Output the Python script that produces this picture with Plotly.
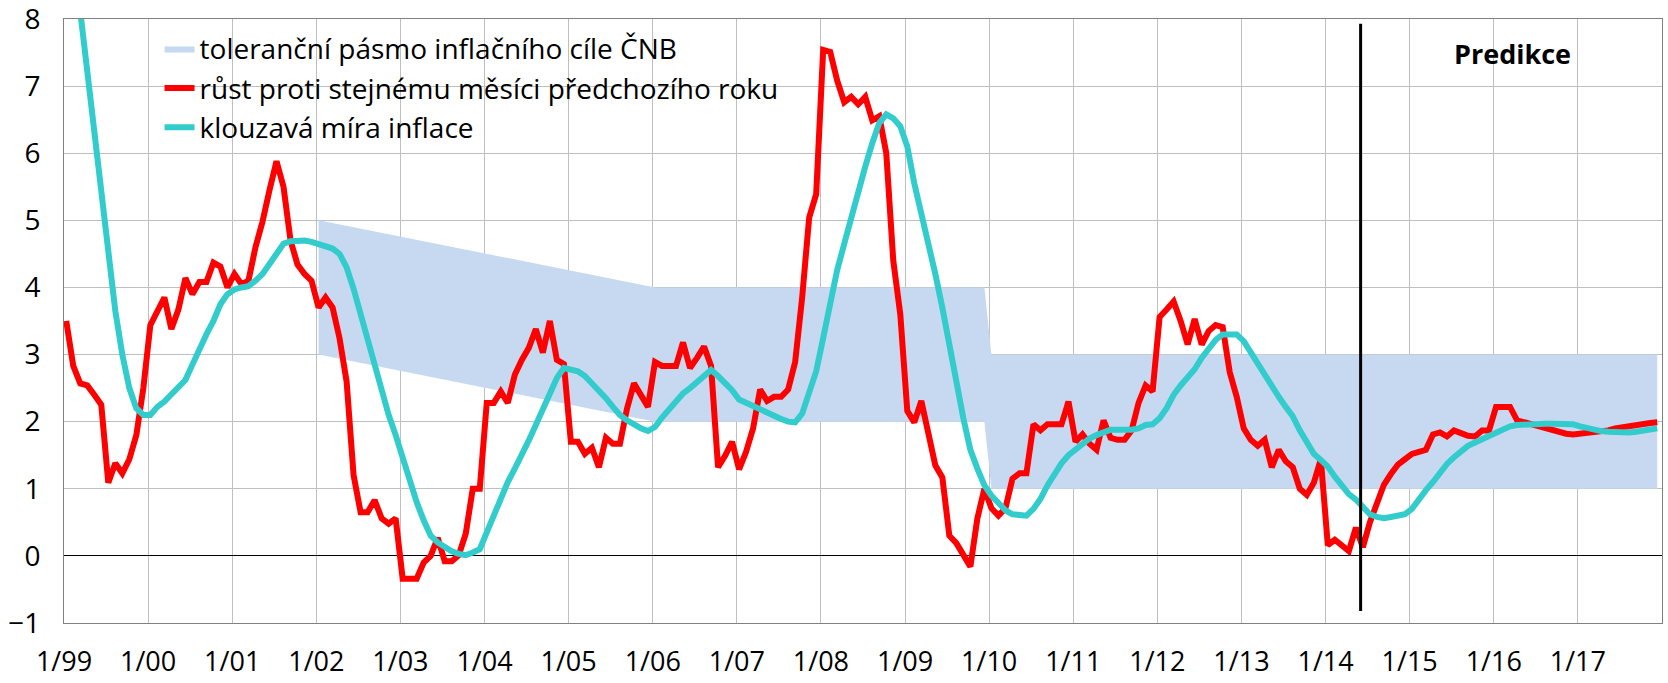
import plotly.graph_objects as go

# ---------------- data ----------------
start_year = 1999
n_months = 228  # 1/1999 .. 12/2017
x_shift = 0.32  # Excel plots each month slightly right of the year gridline

yoy = [
    # 1999
    3.5, 2.83, 2.57, 2.54, 2.4, 2.25, 1.09, 1.38, 1.23, 1.44, 1.8, 2.5,
    # 2000
    3.44, 3.65, 3.85, 3.38, 3.67, 4.14, 3.9, 4.08, 4.08, 4.37, 4.31, 4.0,
    # 2001
    4.2, 4.05, 4.1, 4.6, 4.98, 5.45, 5.88, 5.5, 4.7, 4.34, 4.2, 4.1,
    # 2002
    3.7, 3.85, 3.7, 3.24, 2.6, 1.2, 0.65, 0.65, 0.83, 0.56, 0.48, 0.56,
    # 2003
    -0.34, -0.34, -0.34, -0.1, 0.0, 0.27, -0.08, -0.08, 0.01, 0.33, 1.0, 1.0,
    # 2004
    2.28, 2.28, 2.45, 2.28, 2.7, 2.92, 3.1, 3.38, 3.03, 3.5, 2.92, 2.86,
    # 2005
    1.7, 1.7, 1.52, 1.61, 1.32, 1.76, 1.67, 1.67, 2.19, 2.57, 2.4, 2.22,
    # 2006
    2.89, 2.83, 2.83, 2.83, 3.18, 2.8, 2.95, 3.12, 2.83, 1.32, 1.49, 1.7,
    # 2007
    1.29, 1.55, 1.9, 2.48, 2.31, 2.37, 2.37, 2.48, 2.89, 3.85, 5.04, 5.39,
    # 2008
    7.54, 7.51, 7.08, 6.76, 6.84, 6.73, 6.84, 6.49, 6.55, 6.0, 4.4, 3.6,
    # 2009
    2.16, 1.99, 2.31, 1.8, 1.35, 1.17, 0.3, 0.19, 0.01, -0.16, 0.56, 1.0,
    # 2010
    0.71, 0.6, 0.71, 1.15, 1.23, 1.23, 1.96, 1.87, 1.96, 1.96, 1.96, 2.3,
    # 2011
    1.7, 1.81, 1.67, 1.58, 2.02, 1.76, 1.73, 1.73, 1.87, 2.28, 2.54, 2.45,
    # 2012
    3.56, 3.67, 3.79, 3.5, 3.15, 3.53, 3.15, 3.35, 3.44, 3.41, 2.74, 2.37,
    # 2013
    1.9, 1.73, 1.64, 1.73, 1.32, 1.58, 1.41, 1.32, 1.0, 0.91, 1.09, 1.44,
    # 2014
    0.16, 0.24, 0.16, 0.07, 0.42, 0.13, 0.5, 0.8, 1.06, 1.22, 1.36, 1.44,
    # 2015
    1.52, 1.55, 1.58, 1.81, 1.84, 1.78, 1.87, 1.83, 1.79, 1.78, 1.87, 1.87,
    # 2016
    2.22, 2.22, 2.22, 2.02, 1.99, 1.96, 1.93, 1.89, 1.86, 1.84, 1.82, 1.81,
    # 2017
    1.82, 1.83, 1.84, 1.85, 1.87, 1.9, 1.92, 1.94, 1.96, 1.97, 1.98, 1.99,
]

moving_avg = [
    # 1999
    9.9, 9.0, 8.1, 7.2, 6.35, 5.45, 4.5, 3.65, 3.0, 2.5, 2.2, 2.1,
    # 2000
    2.1, 2.22, 2.3, 2.4, 2.5, 2.62, 2.85, 3.1, 3.3, 3.5, 3.75, 3.9,
    # 2001
    3.97, 4.0, 4.02, 4.1, 4.2, 4.35, 4.5, 4.65, 4.69, 4.7, 4.7, 4.68,
    # 2002
    4.64, 4.62, 4.58, 4.5, 4.3, 3.98, 3.6, 3.25, 2.8, 2.45, 2.1, 1.8,
    # 2003
    1.45, 1.1, 0.8, 0.53, 0.3, 0.2, 0.13, 0.07, 0.03, 0.01, 0.05, 0.1,
    # 2004
    0.35, 0.62, 0.88, 1.1, 1.3, 1.5, 1.72, 1.95, 2.2, 2.45, 2.65, 2.8,
    # 2005
    2.78, 2.75, 2.68, 2.58, 2.45, 2.35, 2.22, 2.1, 2.02, 1.95, 1.9, 1.86,
    # 2006
    1.92, 2.06, 2.18, 2.3, 2.42, 2.5, 2.6, 2.7, 2.77, 2.68, 2.58, 2.47,
    # 2007
    2.33, 2.28, 2.23, 2.19, 2.13, 2.07, 2.04, 2.0, 1.99, 2.12, 2.45, 2.75,
    # 2008
    3.25, 3.75, 4.26, 4.65, 5.05, 5.45, 5.8, 6.15, 6.45, 6.58, 6.52, 6.4,
    # 2009
    6.1, 5.55, 5.1, 4.7, 4.2, 3.7, 3.2, 2.6, 2.05, 1.58, 1.3, 1.05,
    # 2010
    0.9, 0.78, 0.68, 0.62, 0.6, 0.6, 0.7, 0.85, 1.05, 1.22, 1.38, 1.5,
    # 2011
    1.58, 1.67, 1.75, 1.8, 1.85, 1.88, 1.88, 1.87, 1.88, 1.9, 1.95, 1.96,
    # 2012
    2.05, 2.2, 2.4, 2.54, 2.65, 2.78, 2.95, 3.1, 3.22, 3.3, 3.3, 3.3,
    # 2013
    3.2, 3.03, 2.86, 2.7, 2.5, 2.37, 2.22, 2.08, 1.87, 1.68, 1.52, 1.43,
    # 2014
    1.33, 1.18, 1.04, 0.92, 0.84, 0.72, 0.62, 0.58, 0.56, 0.58, 0.6, 0.62,
    # 2015
    0.7, 0.85, 0.98, 1.1, 1.25, 1.37, 1.47, 1.56, 1.64, 1.69, 1.74, 1.79,
    # 2016
    1.84, 1.89, 1.93, 1.95, 1.96, 1.96, 1.97, 1.97, 1.97, 1.97, 1.97, 1.96,
    # 2017
    1.93, 1.9, 1.87, 1.86, 1.85, 1.84, 1.84, 1.84, 1.85, 1.86, 1.88, 1.9,
]

# tolerance band vertices (month index, lower, upper)
band_months = [36, 84, 131, 132, 227]
band_lower = [3, 2, 2, 1, 1]
band_upper = [5, 4, 4, 3, 3]

prediction_month = 185  # 6/2014
tick_labels = ["1/%02d" % ((start_year + k) % 100) for k in range(19)]

# ---------------- figure ----------------
months = list(range(n_months))
x_vals = [m + x_shift for m in months]
band_x = [m + x_shift for m in band_months]

RED = "#FF0000"
CYAN = "#33CCCC"
BAND = "#C6D9F1"
FONT = "Open Sans"

fig = go.Figure()
fig.add_trace(go.Scatter(
    x=band_x, y=band_lower, mode="lines", line=dict(width=0, color=BAND),
    showlegend=False, hoverinfo="skip", legendgroup="a"))
fig.add_trace(go.Scatter(
    x=band_x, y=band_upper, mode="lines", line=dict(width=0, color=BAND),
    fill="tonexty", fillcolor=BAND, name="toleranční pásmo inflačního cíle ČNB",
    legendgroup="a"))
fig.add_trace(go.Scatter(
    x=x_vals, y=yoy, mode="lines", line=dict(color=RED, width=6),
    name="růst proti stejnému měsíci předchozího roku", legendgroup="b"))
fig.add_trace(go.Scatter(
    x=x_vals, y=moving_avg, mode="lines", line=dict(color=CYAN, width=6),
    name="klouzavá míra inflace", legendgroup="c"))

fig.add_shape(type="line", xref="x", yref="y",
              x0=prediction_month, x1=prediction_month, y0=-0.82, y1=7.93,
              line=dict(color="black", width=3))

fig.add_annotation(x=206.6, y=7.48, xref="x", yref="y", text="<b>Predikce</b>",
                   showarrow=False, font=dict(family=FONT, size=27, color="black"))

fig.update_layout(
    width=1668, height=683,
    margin=dict(l=64, r=6, t=19, b=60, autoexpand=False),
    paper_bgcolor="white", plot_bgcolor="white",
    font=dict(family=FONT, size=28, color="black"),
    legend=dict(x=0.0598, y=0.992, xanchor="left", yanchor="top",
                bgcolor="rgba(0,0,0,0)", font=dict(family=FONT, size=28),
                tracegroupgap=1.5, traceorder="normal"),
    showlegend=True,
)
fig.update_xaxes(
    range=[0, 228], tickmode="array",
    tickvals=[12 * k for k in range(19)], ticktext=tick_labels,
    showgrid=True, gridcolor="#BFBFBF", gridwidth=1,
    showline=True, linecolor="#808080", linewidth=1, mirror=True,
    ticks="", zeroline=False, ticklabelstandoff=15, automargin=False,
    ticklabeloverflow="allow", tickfont=dict(family=FONT, size=27),
)
fig.update_yaxes(
    range=[-1, 8], dtick=1, tick0=0,
    showgrid=True, gridcolor="#BFBFBF", gridwidth=1,
    showline=True, linecolor="#808080", linewidth=1, mirror=True,
    ticks="", zeroline=True, zerolinecolor="black", zerolinewidth=1,
    ticklabelstandoff=17, automargin=False, ticklabeloverflow="allow",
    tickfont=dict(family=FONT, size=28),
)

fig.write_html("out.html", config={"displayModeBar": False},
               post_script="document.body.style.margin='0px';")
